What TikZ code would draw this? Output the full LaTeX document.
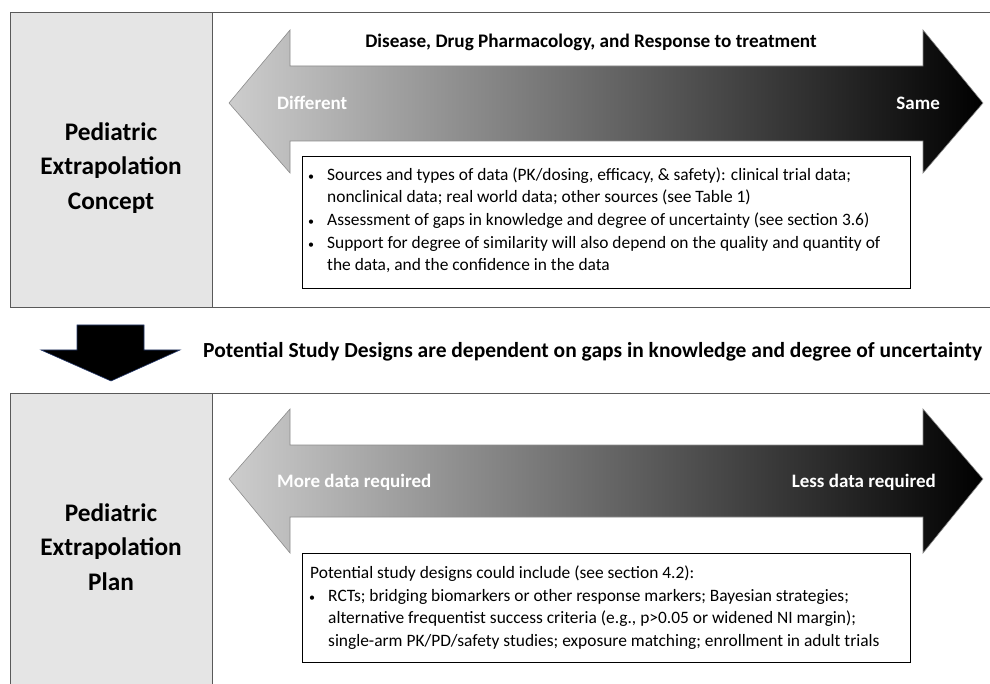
\documentclass[tikz,border=0pt]{standalone}
\usepackage{fontspec}
\setmainfont{Carlito}
\begin{document}
\begin{tikzpicture}[x=1pt,y=-1pt,
  panel/.style={draw=black!65, line width=1pt},
  leftpanel/.style={draw=black!65, line width=1pt, fill=black!10},
  bigarrow/.style={draw=black!45, line width=0.6pt, left color={rgb,255:red,205;green,205;blue,205}, right color=black},
  tbox/.style={draw=black, line width=1.3pt, fill=white, inner sep=0pt},
  body/.style={inner sep=0pt, align=left, font=\fontsize{17.4}{22.6}\selectfont},
  sidelabel/.style={align=center, font=\bfseries\fontsize{25.3}{34.5}\selectfont},
  arrowlabel/.style={text=white, font=\bfseries\fontsize{19}{22}\selectfont, inner sep=0pt},
  headline/.style={font=\bfseries\fontsize{19.2}{22}\selectfont, inner sep=0pt}
]
\useasboundingbox (0,0) rectangle (990,684);
\clip (0,0) rectangle (990,684);
\newcommand{\bul}{\makebox[19pt][l]{\hspace*{0pt}\fontsize{12}{12}\selectfont\textbullet}}
\newcommand{\ind}{\hspace*{19pt}}

% top panel
\draw[panel] (10,13) rectangle (992,308);
\draw[leftpanel] (10,13) rectangle (212,308);
\node[sidelabel] (concept) at (111,168) {Pediatric\\Extrapolation\\Concept};

% top double arrow
\draw[bigarrow] (229,103) -- (290,30) -- (290,66) -- (923,66) -- (923,30) -- (983,103)
  -- (923,173) -- (923,141) -- (290,141) -- (290,173) -- cycle;
\node[headline, anchor=base] (title) at (591,48) {Disease, Drug Pharmacology, and Response to treatment};
\node[arrowlabel, anchor=base west] (diff) at (277,110) {Different};
\node[arrowlabel, anchor=base east] (same) at (940,110) {Same};

\node[tbox, minimum width=608pt, minimum height=132pt, anchor=north west] (box1) at (302,156) {};
\node[body, anchor=north west] (txt1) at (308,164.2) {\strut\bul Sources and types of data (PK/dosing, efficacy, \& safety): clinical trial data;\\
\ind nonclinical data; real world data; other sources (see Table 1)\\
\bul Assessment of gaps in knowledge and degree of uncertainty (see section 3.6)\\
\bul Support for degree of similarity will also depend on the quality and quantity of\\
\ind the data, and the confidence in the data};

% middle
\draw[fill=black, draw={rgb,255:red,40;green,60;blue,110}, line width=0.6pt]
  (77,325) -- (144,325) -- (144,350) -- (180,350) -- (111,381) -- (41,350) -- (77,350) -- cycle;
\coordinate (downarrow) at (111,350);
\node[headline, anchor=base west, font=\bfseries\fontsize{21.5}{24}\selectfont] (mid) at (203,357) {Potential Study Designs are dependent on gaps in knowledge and degree of uncertainty};

% bottom panel
\draw[panel] (10,393) rectangle (992,700);
\draw[leftpanel] (10,393) rectangle (212,700);
\node[sidelabel] (plan) at (111,547) {Pediatric\\Extrapolation\\Plan};

\draw[bigarrow] (229,479) -- (290,409) -- (290,445) -- (923,445) -- (923,409) -- (983,479)
  -- (923,553) -- (923,517) -- (290,517) -- (290,553) -- cycle;
\node[arrowlabel, anchor=base west] (more) at (277,487) {More data required};
\node[arrowlabel, anchor=base east] (less) at (936,487) {Less data required};

\node[tbox, minimum width=608pt, minimum height=109pt, anchor=north west] (box2) at (302,553) {};
\node[body, anchor=north west] (txt2) at (310,562.7) {\strut Potential study designs could include (see section 4.2):\\
\hspace*{-1pt}\bul RCTs; bridging biomarkers or other response markers; Bayesian strategies;\\
\hspace*{-1pt}\ind alternative frequentist success criteria (e.g., p>0.05 or widened NI margin);\\
\hspace*{-1pt}\ind single-arm PK/PD/safety studies; exposure matching; enrollment in adult trials};
\end{tikzpicture}
\end{document}
